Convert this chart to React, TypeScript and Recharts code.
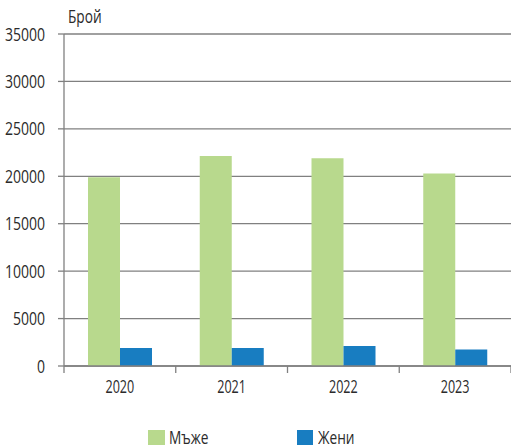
import React from 'react';
import { BarChart, Bar, XAxis, YAxis, CartesianGrid, Legend } from 'recharts';

const years = ['2020', '2021', '2022', '2023'];
const men = [19900, 22150, 21900, 20300];
const women = [1900, 1900, 2100, 1750];
const yTicks = [0, 5000, 10000, 15000, 20000, 25000, 30000, 35000];
const menLabel = 'Мъже';
const womenLabel = 'Жени';
const yTitle = 'Брой';

const data = years.map((y, i) => ({ year: y, men: men[i], women: women[i] }));

const FONT = '"Open Sans", "Noto Sans", sans-serif';
const TEXT = '#2b2b2b';
const AXIS = '#808080';
const GREEN = '#b8d98d';
const BLUE = '#187dc1';
const SQ = 0.76;

const W = 511;
const H = 448;
const LEFT = 64;
const PLOT_W = W - LEFT;
const BAND = PLOT_W / years.length;

const XTick = (props: any) => {
  const { x, y, payload, index } = props;
  const lines = [x - BAND / 2];
  if (index === years.length - 1) lines.push(x + BAND / 2);
  return (
    <g>
      {lines.map((lx, i) => (
        <line key={i} x1={lx} x2={lx} y1={y - 8} y2={y - 1} stroke={AXIS} strokeWidth={1.3} />
      ))}
      <text
        transform={`translate(${x},${y + 19}) scale(0.72,1)`}
        textAnchor="middle"
        fill={TEXT}
        fontFamily={FONT}
        fontSize={17.5}
      >
        {payload.value}
      </text>
    </g>
  );
};

const YTick = (props: any) => {
  const { x, y, payload } = props;
  return (
    <text
      transform={`translate(${x - 11},${y + 6.5}) scale(${SQ + 0.02},1)`}
      textAnchor="end"
      fill={TEXT}
      fontFamily={FONT}
      fontSize={18}
    >
      {payload.value}
    </text>
  );
};

const txtStyle: React.CSSProperties = {
  display: 'inline-block',
  transform: `scaleX(${SQ})`,
  transformOrigin: 'left center',
  lineHeight: '16px',
};

const LegendContent = () => (
  <div style={{ position: 'relative', width: W, height: 20, fontFamily: FONT, fontSize: 18, color: TEXT }}>
    <div style={{ position: 'absolute', left: 148, top: 3, display: 'flex', alignItems: 'center' }}>
      <span style={{ display: 'inline-block', width: 17, height: 15, background: GREEN, marginRight: 4 }} />
      <span style={txtStyle}>{menLabel}</span>
    </div>
    <div style={{ position: 'absolute', left: 297, top: 3, display: 'flex', alignItems: 'center' }}>
      <span style={{ display: 'inline-block', width: 16, height: 15, background: BLUE, marginRight: 5 }} />
      <span style={txtStyle}>{womenLabel}</span>
    </div>
  </div>
);

const YTitle = (props: any) => {
  const { viewBox } = props;
  return (
    <text
      transform={`translate(${viewBox.x + viewBox.width + 4},${viewBox.y - 11}) scale(${SQ},1)`}
      fill={TEXT}
      fontFamily={FONT}
      fontSize={18}
    >
      {yTitle}
    </text>
  );
};

export default function App() {
  return (
    <div style={{ position: 'absolute', left: 0, top: 0, width: W, height: H, background: '#fff' }}>
      <BarChart
        width={W}
        height={H}
        data={data}
        margin={{ top: 34, right: 0, left: 0, bottom: 2 }}
        barCategoryGap={24}
        barGap={0}
      >
        <CartesianGrid vertical={false} stroke={AXIS} strokeWidth={1.3} />
        <XAxis
          dataKey="year"
          height={60}
          axisLine={{ stroke: AXIS, strokeWidth: 1.3 }}
          tickLine={false}
          tick={<XTick />}
          interval={0}
        />
        <YAxis
          width={LEFT}
          domain={[0, 35000]}
          ticks={yTicks}
          interval={0}
          axisLine={{ stroke: AXIS, strokeWidth: 1.3 }}
          tickLine={{ stroke: AXIS, strokeWidth: 1.3 }}
          tickSize={6}
          tick={<YTick />}
          label={<YTitle />}
        />
        <Legend verticalAlign="bottom" height={20} content={<LegendContent />} />
        <Bar dataKey="men" name={menLabel} fill={GREEN} isAnimationActive={false} />
        <Bar dataKey="women" name={womenLabel} fill={BLUE} isAnimationActive={false} />
      </BarChart>
    </div>
  );
}
